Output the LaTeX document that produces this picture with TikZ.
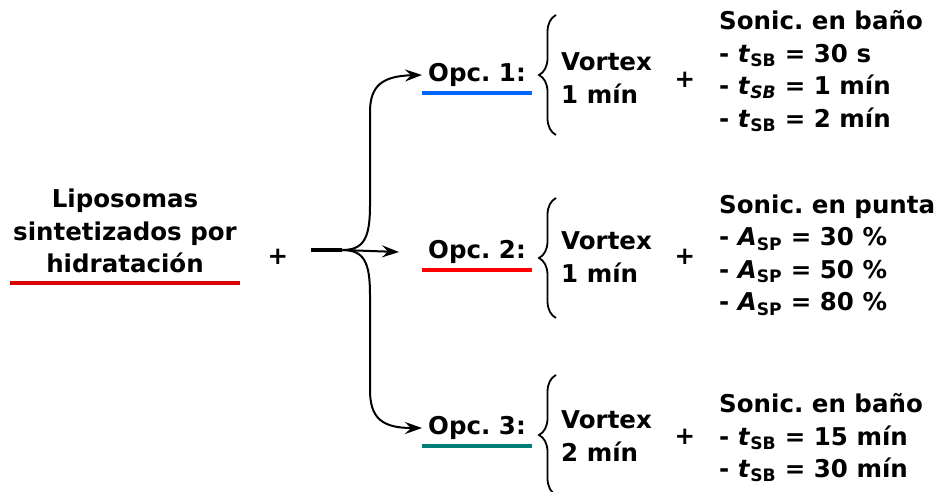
\documentclass[tikz,border=0pt]{standalone}
\usepackage{fontspec}
\setmainfont{DejaVu Sans}
\usetikzlibrary{arrows.meta,decorations.pathreplacing}
\definecolor{opcblue}{RGB}{0,102,255}
\definecolor{opcred}{RGB}{255,0,0}
\definecolor{lipored}{RGB}{220,0,0}
\definecolor{opcteal}{RGB}{0,126,120}
\newcommand{\tsb}{\textit{t}\textsubscript{SB}}
\newcommand{\asp}{\textit{A}\textsubscript{SP}}
\frenchspacing
\begin{document}
\begin{tikzpicture}[x=1pt,y=-1pt,
    txt/.style={font=\fontsize{24.5}{32.5}\selectfont\bfseries, inner sep=3pt},
    uline/.style={line width=4pt},
    branch/.style={line width=2pt, -{Stealth[length=17pt,width=12pt,inset=6pt]}},
    opcbrace/.style={decorate, decoration={brace, amplitude=17pt, aspect=0.5}, line width=1.8pt}]
    \useasboundingbox (0,0) rectangle (941,491);
    \node[txt, align=center] at (125,231) (lipo) {Liposomas\\sintetizados por\\hidratación};
    \draw[uline, lipored] ([yshift=-7pt]lipo.south west) -- ([yshift=-7pt]lipo.south east);
    \node[txt] at (278,257) (plus0) {+};
    \coordinate (stem) at (311,250);
    \coordinate (split) at (342,250);
    \draw[line width=3.5pt] (stem) -- (split);
    \node[txt, inner xsep=6pt] at (477,75) (opc1) {Opc. 1:};
    \node[txt, inner xsep=6pt] at (477,252) (opc2) {Opc. 2:};
    \node[txt, inner xsep=6pt] at (477,428) (opc3) {Opc. 3:};
    \draw[uline, opcblue] ([yshift=-3pt]opc1.south west) -- ([yshift=-3pt]opc1.south east);
    \draw[uline, opcred] ([yshift=-3pt]opc2.south west) -- ([yshift=-3pt]opc2.south east);
    \draw[uline, opcteal] ([yshift=-3pt]opc3.south west) -- ([yshift=-3pt]opc3.south east);
    \draw[branch] (split) .. controls (364,250) and (370,238) .. (370,205) -- (370,112)
        .. controls (370,86) and (382,76) .. (opc1.west);
    \draw[branch] (split) -- (399,252);
    \draw[branch] (split) .. controls (364,250) and (370,262) .. (370,295) -- (370,390)
        .. controls (370,418) and (382,428) .. (opc3.west);
    \draw[opcbrace] (556,135) -- (556,15);
    \draw[opcbrace] (556,318) -- (556,198);
    \draw[opcbrace] (556,495) -- (556,375);
    \node[txt, align=left, anchor=west] at (558,78) (vort1) {Vortex\\1 mín};
    \node[txt, align=left, anchor=west] at (558,257) (vort2) {Vortex\\1 mín};
    \node[txt, align=left, anchor=west] at (558,436) (vort3) {Vortex\\2 mín};
    \node[txt] at (685,80) (plus1) {+};
    \node[txt] at (685,257) (plus2) {+};
    \node[txt] at (685,437) (plus3) {+};
    \node[txt, align=left, anchor=west] at (716,71) (son1) {Sonic. en baño\\- \tsb{} = 30 s\\- \textit{t}\textsubscript{\textit{SB}} = 1 mín\\- \tsb{} = 2 mín};
    \node[txt, align=left, anchor=west] at (716,255) (son2) {Sonic. en punta\\- \asp{} = 30 \%\\- \asp{} = 50 \%\\- \asp{} = 80 \%};
    \node[txt, align=left, anchor=west] at (716,438) (son3) {Sonic. en baño\\- \tsb{} = 15 mín\\- \tsb{} = 30 mín};
\end{tikzpicture}
\end{document}
